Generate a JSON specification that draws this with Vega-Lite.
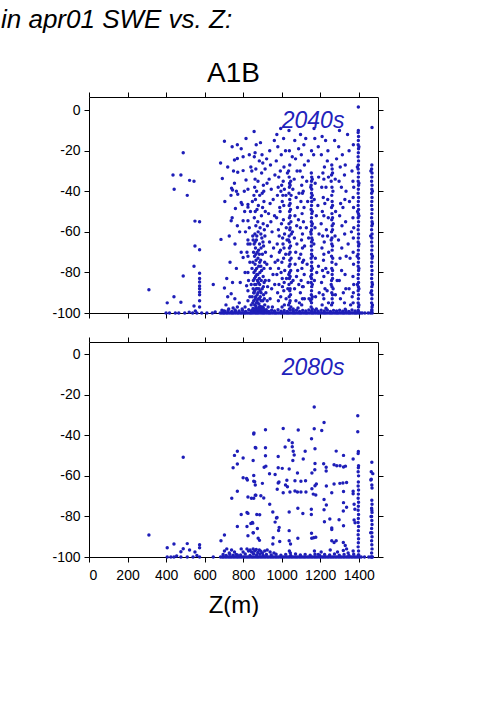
{
"$schema":"https://vega.github.io/schema/vega-lite/v6.json",
"background":"white",
"padding":{"left":0,"top":6,"right":0,"bottom":0},
"title":{"text":"in apr01 SWE vs. Z:","anchor":"start","fontSize":26,"fontStyle":"italic","fontWeight":"normal","font":"Liberation Sans","color":"black","dx":-51,"offset":27},
"spacing":16,
"config":{
"view":{"stroke":null},
"axis":{"grid":false,"domainColor":"black","domainWidth":1,"tickColor":"black","tickWidth":1,"tickSize":5,"labelFont":"Liberation Sans","labelFontSize":14,"labelColor":"black","labelPadding":4,"titleFont":"Liberation Sans","titleFontWeight":"normal","titleColor":"black"},
"title":{"font":"Liberation Sans","fontWeight":"normal","color":"black"}
},
"datasets":{
"a":[
{"z":311,"s":-88.5},{"z":406,"s":-95},{"z":441,"s":-92},{"z":477,"s":-94.7},{"z":436,"s":-32},{"z":477,"s":-32},{"z":442,"s":-39},{"z":489,"s":-21},{"z":522,"s":-34.6},{"z":545,"s":-35},{"z":510,"s":-42},{"z":550,"s":-54.7},{"z":574,"s":-55},{"z":550,"s":-67},{"z":574,"s":-68.8},{"z":545,"s":-77},{"z":489,"s":-81.8},{"z":574,"s":-80.4},{"z":574,"s":-83},{"z":574,"s":-84.7},{"z":574,"s":-86.7},{"z":574,"s":-88},{"z":574,"s":-89.7},{"z":574,"s":-91},{"z":574,"s":-94},{"z":574,"s":-97},{"z":545,"s":-96.6},{"z":552,"s":-99},{"z":645,"s":-86},
{"z":400,"s":-100},{"z":418,"s":-100},{"z":448,"s":-100},{"z":466,"s":-100},{"z":497,"s":-100},{"z":520,"s":-99.6},{"z":538,"s":-100},{"z":560,"s":-100},{"z":585,"s":-100},{"z":612,"s":-100},{"z":640,"s":-100},{"z":655,"s":-99.5},
{"z":685,"s":-63.7},{"z":703,"s":-87.7},{"z":715,"s":-83},{"z":738,"s":-90.5},{"z":757,"s":-93},{"z":770,"s":-97},{"z":711,"s":-96},{"z":683,"s":-26},{"z":692,"s":-33.7},{"z":703,"s":-15.3},{"z":743,"s":-18},{"z":770,"s":-17},{"z":790,"s":-19},{"z":800,"s":-23},{"z":755,"s":-24.6},{"z":770,"s":-23.8},{"z":750,"s":-30},{"z":772,"s":-30.6},{"z":800,"s":-29.8},{"z":755,"s":-36},{"z":815,"s":-34.4},{"z":740,"s":-38.5},{"z":745,"s":-39.4},{"z":765,"s":-40},{"z":737,"s":-42},{"z":772,"s":-41.4},{"z":825,"s":-39},{"z":760,"s":-48.5},{"z":790,"s":-45.5},{"z":795,"s":-46.5},{"z":825,"s":-46.5},{"z":825,"s":-47.8},{"z":743,"s":-53},{"z":738,"s":-54.5},{"z":770,"s":-57},{"z":800,"s":-54.5},{"z":825,"s":-54.5},{"z":825,"s":-64},{"z":825,"s":-66},{"z":820,"s":-70},{"z":790,"s":-70},{"z":800,"s":-72.6},{"z":825,"s":-72},{"z":835,"s":-75},{"z":825,"s":-80},{"z":818,"s":-86.6},{"z":825,"s":-89},{"z":835,"s":-92},{"z":825,"s":-94},{"z":780,"s":-95},{"z":795,"s":-98},{"z":810,"s":-97},{"z":725,"s":-98},{"z":748,"s":-97.5},{"z":700,"s":-99},{"z":760,"s":-99},{"z":828,"s":-84},{"z":812,"s":-60},{"z":832,"s":-58},{"z":808,"s":-50},{"z":840,"s":-28},{"z":832,"s":-22},{"z":815,"s":-14},
{"z":705,"s":-45},{"z":720,"s":-28},{"z":728,"s":-62},{"z":732,"s":-75},{"z":758,"s":-66},{"z":765,"s":-78},{"z":782,"s":-60},{"z":785,"s":-85},{"z":806,"s":-40},{"z":810,"s":-80},{"z":838,"s":-50},{"z":836,"s":-66},{"z":842,"s":-86},{"z":720,"s":-92},{"z":745,"s":-85},
{"z":857,"s":-10.5},{"z":862,"s":-21},{"z":858,"s":-23},{"z":866,"s":-29},{"z":860,"s":-38},{"z":870,"s":-40},{"z":856,"s":-42},{"z":864,"s":-44},{"z":872,"s":-49},{"z":858,"s":-53},{"z":866,"s":-57},{"z":861,"s":-61},{"z":869,"s":-64},{"z":857,"s":-66},{"z":864,"s":-68},{"z":873,"s":-70},{"z":859,"s":-72},{"z":867,"s":-74},{"z":862,"s":-76},{"z":870,"s":-78},{"z":856,"s":-80},{"z":865,"s":-82},{"z":874,"s":-84},{"z":860,"s":-86},{"z":868,"s":-88},{"z":857,"s":-90},{"z":865,"s":-92},{"z":872,"s":-94},{"z":860,"s":-96},{"z":868,"s":-97.5},{"z":877,"s":-35},{"z":879,"s":-47},{"z":876,"s":-55},{"z":878,"s":-60},{"z":880,"s":-69},{"z":877,"s":-73},{"z":881,"s":-77},{"z":876,"s":-81},{"z":879,"s":-85},{"z":882,"s":-88},{"z":877,"s":-90},{"z":880,"s":-93},{"z":875,"s":-95},{"z":883,"s":-97},
{"z":845,"s":-30},{"z":848,"s":-45},{"z":850,"s":-62},{"z":846,"s":-78},{"z":852,"s":-88},{"z":884,"s":-25},{"z":886,"s":-42},{"z":888,"s":-58},{"z":885,"s":-66},{"z":887,"s":-80},{"z":889,"s":-92},{"z":890,"s":-16},{"z":922,"s":-24},{"z":924,"s":-36},{"z":926,"s":-57},{"z":923,"s":-76},{"z":927,"s":-87},{"z":925,"s":-94},{"z":863,"s":-50},{"z":871,"s":-62},{"z":859,"s":-83},{"z":867,"s":-86},{"z":873,"s":-91},{"z":863,"s":-93},{"z":869,"s":-95},{"z":858,"s":-99},{"z":875,"s":-99},{"z":862,"s":-34},{"z":868,"s":-17},
{"z":847,"s":-92},{"z":855,"s":-94},{"z":870,"s":-99},{"z":882,"s":-95.5},{"z":893,"s":-94},{"z":900,"s":-97},{"z":910,"s":-93},
{"z":852,"s":-64},{"z":854,"s":-70},{"z":851,"s":-75},{"z":853,"s":-84},{"z":855,"s":-90},{"z":884,"s":-71},{"z":886,"s":-75},{"z":884,"s":-83},{"z":886,"s":-86},{"z":888,"s":-89},{"z":885,"s":-93},{"z":892,"s":-61},{"z":893,"s":-68},{"z":891,"s":-74},{"z":892,"s":-77},{"z":894,"s":-84},{"z":893,"s":-90},{"z":891,"s":-97},{"z":862,"s":-65},{"z":866,"s":-71},{"z":863,"s":-79},{"z":871,"s":-81},{"z":860,"s":-89},{"z":874,"s":-88},
{"z":898,"s":-22},{"z":902,"s":-26},{"z":896,"s":-31},{"z":905,"s":-37},{"z":899,"s":-41},{"z":908,"s":-45},{"z":901,"s":-48},{"z":895,"s":-52},{"z":904,"s":-56},{"z":910,"s":-59},{"z":897,"s":-63},{"z":906,"s":-67},{"z":900,"s":-71},{"z":912,"s":-75},{"z":896,"s":-79},{"z":904,"s":-82},{"z":909,"s":-85},{"z":899,"s":-88},{"z":906,"s":-91},{"z":902,"s":-94},{"z":912,"s":-96},{"z":914,"s":-29},{"z":915,"s":-50},{"z":913,"s":-62},{"z":916,"s":-70},{"z":915,"s":-84},{"z":918,"s":-90},{"z":907,"s":-40},{"z":903,"s":-65},{"z":908,"s":-78},{"z":905,"s":-87},
{"z":938,"s":-20},{"z":942,"s":-27},{"z":935,"s":-34},{"z":946,"s":-39},{"z":940,"s":-46},{"z":932,"s":-51},{"z":944,"s":-55},{"z":950,"s":-60},{"z":937,"s":-65},{"z":946,"s":-72},{"z":941,"s":-78},{"z":934,"s":-84},{"z":948,"s":-88},{"z":940,"s":-93},{"z":952,"s":-97},{"z":956,"s":-44},{"z":958,"s":-68},{"z":955,"s":-81},
{"z":962,"s":-15},{"z":965,"s":-32},{"z":963,"s":-52},{"z":966,"s":-75},{"z":964,"s":-86},
{"z":975,"s":-12},{"z":980,"s":-18},{"z":972,"s":-25},{"z":985,"s":-33},{"z":978,"s":-42},{"z":990,"s":-48},{"z":974,"s":-53},{"z":983,"s":-59},{"z":977,"s":-66},{"z":988,"s":-70},{"z":980,"s":-74},{"z":975,"s":-81},{"z":986,"s":-86},{"z":979,"s":-90},{"z":983,"s":-94},{"z":995,"s":-9},{"z":998,"s":-22},{"z":993,"s":-30},{"z":1000,"s":-37},{"z":996,"s":-40},{"z":1003,"s":-45},{"z":992,"s":-50},{"z":999,"s":-56},{"z":1005,"s":-63},{"z":994,"s":-69},{"z":1001,"s":-75},{"z":997,"s":-80},{"z":1004,"s":-87},{"z":995,"s":-92},{"z":1002,"s":-97},{"z":1010,"s":-14},{"z":1012,"s":-28},{"z":1008,"s":-35},{"z":1014,"s":-39},{"z":1011,"s":-47},{"z":1009,"s":-54},{"z":1015,"s":-61},{"z":1012,"s":-68},{"z":1010,"s":-73},{"z":1016,"s":-79},{"z":1013,"s":-85},{"z":1011,"s":-89},{"z":1014,"s":-96},{"z":982,"s":-38},{"z":987,"s":-62},{"z":984,"s":-78},{"z":1006,"s":-42},{"z":1007,"s":-66},{"z":1003,"s":-83},
{"z":1020,"s":-20},{"z":1022,"s":-42},{"z":1024,"s":-58},{"z":1021,"s":-71},{"z":1025,"s":-83},{"z":1023,"s":-93},{"z":1030,"s":-31},{"z":1028,"s":-64},{"z":1032,"s":-88},
{"z":1038,"s":-10},{"z":1040,"s":-20},{"z":1042,"s":-27},{"z":1039,"s":-33},{"z":1041,"s":-36},{"z":1040,"s":-38},{"z":1038,"s":-41},{"z":1042,"s":-44},{"z":1039,"s":-47},{"z":1041,"s":-50},{"z":1040,"s":-53},{"z":1038,"s":-56},{"z":1042,"s":-59},{"z":1039,"s":-62},{"z":1041,"s":-65},{"z":1040,"s":-68},{"z":1038,"s":-71},{"z":1042,"s":-74},{"z":1039,"s":-77},{"z":1041,"s":-80},{"z":1040,"s":-83},{"z":1038,"s":-86},{"z":1042,"s":-89},{"z":1039,"s":-92},{"z":1041,"s":-95},{"z":1040,"s":-98},{"z":1047,"s":-35},{"z":1049,"s":-42},{"z":1046,"s":-49},{"z":1048,"s":-55},{"z":1050,"s":-61},{"z":1046,"s":-67},{"z":1049,"s":-73},{"z":1047,"s":-79},{"z":1050,"s":-85},{"z":1046,"s":-91},{"z":1048,"s":-97},{"z":1036,"s":-30},{"z":1036,"s":-64},{"z":1037,"s":-81},{"z":1036,"s":-96},
{"z":1044,"s":-37},{"z":1044,"s":-46},{"z":1044,"s":-52},{"z":1044,"s":-58},{"z":1044,"s":-70},{"z":1044,"s":-76},{"z":1044,"s":-82},{"z":1044,"s":-88},{"z":1044,"s":-94},
{"z":1055,"s":-23},{"z":1058,"s":-39},{"z":1056,"s":-60},{"z":1059,"s":-84},
{"z":1068,"s":-15},{"z":1072,"s":-24},{"z":1065,"s":-34},{"z":1075,"s":-43},{"z":1069,"s":-52},{"z":1078,"s":-57},{"z":1066,"s":-63},{"z":1073,"s":-70},{"z":1070,"s":-76},{"z":1077,"s":-82},{"z":1067,"s":-88},{"z":1074,"s":-94},{"z":1080,"s":-30},{"z":1082,"s":-48},{"z":1079,"s":-66},{"z":1083,"s":-79},
{"z":1088,"s":-19},{"z":1090,"s":-41},{"z":1087,"s":-54},{"z":1091,"s":-73},{"z":1089,"s":-86},{"z":1092,"s":-95},
{"z":1098,"s":-12},{"z":1102,"s":-22},{"z":1096,"s":-30},{"z":1104,"s":-37},{"z":1100,"s":-45},{"z":1106,"s":-51},{"z":1097,"s":-58},{"z":1103,"s":-64},{"z":1099,"s":-71},{"z":1105,"s":-78},{"z":1101,"s":-84},{"z":1097,"s":-90},{"z":1104,"s":-96},{"z":1115,"s":-17},{"z":1118,"s":-27},{"z":1112,"s":-40},{"z":1116,"s":-48},{"z":1113,"s":-55},{"z":1119,"s":-67},{"z":1114,"s":-74},{"z":1117,"s":-81},{"z":1112,"s":-87},{"z":1118,"s":-93},{"z":1130,"s":-35},{"z":1128,"s":-58},{"z":1132,"s":-76},
{"z":1108,"s":-33},{"z":1108,"s":-41},{"z":1108,"s":-61},{"z":1108,"s":-68},{"z":1108,"s":-75},{"z":1108,"s":-87},{"z":1108,"s":-93},
{"z":1125,"s":-14},{"z":1138,"s":-25},{"z":1135,"s":-45},{"z":1140,"s":-63},{"z":1137,"s":-85},{"z":1142,"s":-93},
{"z":1155,"s":-20},{"z":1154,"s":-31},{"z":1156,"s":-33},{"z":1155,"s":-35},{"z":1153,"s":-37},{"z":1156,"s":-39},{"z":1155,"s":-41},{"z":1154,"s":-43},{"z":1156,"s":-45},{"z":1155,"s":-47},{"z":1153,"s":-49},{"z":1156,"s":-51},{"z":1155,"s":-53},{"z":1154,"s":-55},{"z":1156,"s":-57},{"z":1155,"s":-59},{"z":1153,"s":-61},{"z":1156,"s":-63},{"z":1155,"s":-65},{"z":1154,"s":-67},{"z":1156,"s":-69},{"z":1155,"s":-71},{"z":1153,"s":-73},{"z":1156,"s":-75},{"z":1155,"s":-77},{"z":1154,"s":-79},{"z":1156,"s":-81},{"z":1155,"s":-83},{"z":1153,"s":-85},{"z":1156,"s":-87},{"z":1155,"s":-89},{"z":1154,"s":-91},{"z":1156,"s":-93},{"z":1155,"s":-95},{"z":1153,"s":-97},{"z":1156,"s":-99},{"z":1151,"s":-38},{"z":1151,"s":-60},{"z":1151,"s":-82},{"z":1151,"s":-94},
{"z":1159,"s":-34},{"z":1159,"s":-42},{"z":1159,"s":-50},{"z":1159,"s":-56},{"z":1159,"s":-64},{"z":1159,"s":-72},{"z":1159,"s":-78},{"z":1159,"s":-86},{"z":1159,"s":-92},{"z":1159,"s":-98},
{"z":1168,"s":-9},{"z":1172,"s":-14},{"z":1166,"s":-22},{"z":1174,"s":-36},{"z":1169,"s":-44},{"z":1173,"s":-58},{"z":1167,"s":-66},{"z":1175,"s":-73},{"z":1170,"s":-84},{"z":1176,"s":-92},{"z":1180,"s":-52},{"z":1182,"s":-80},
{"z":1190,"s":-18},{"z":1192,"s":-33},{"z":1188,"s":-47},{"z":1194,"s":-61},{"z":1191,"s":-77},{"z":1195,"s":-90},
{"z":1210,"s":-13},{"z":1206,"s":-22},{"z":1214,"s":-31},{"z":1208,"s":-38},{"z":1216,"s":-43},{"z":1211,"s":-50},{"z":1205,"s":-56},{"z":1213,"s":-62},{"z":1209,"s":-68},{"z":1217,"s":-74},{"z":1212,"s":-79},{"z":1207,"s":-85},{"z":1215,"s":-91},{"z":1210,"s":-96},{"z":1222,"s":-28},{"z":1224,"s":-46},{"z":1221,"s":-65},{"z":1225,"s":-88},
{"z":1219,"s":-34},{"z":1219,"s":-52},{"z":1219,"s":-71},{"z":1219,"s":-82},{"z":1219,"s":-93},
{"z":1228,"s":-15},{"z":1230,"s":-38},{"z":1232,"s":-59},{"z":1229,"s":-78},
{"z":1240,"s":-20},{"z":1237,"s":-25},{"z":1243,"s":-33},{"z":1239,"s":-44},{"z":1242,"s":-53},{"z":1238,"s":-62},{"z":1244,"s":-70},{"z":1240,"s":-80},{"z":1236,"s":-89},{"z":1243,"s":-95},
{"z":1260,"s":-27},{"z":1262,"s":-29},{"z":1259,"s":-32},{"z":1261,"s":-38},{"z":1260,"s":-42},{"z":1262,"s":-45},{"z":1259,"s":-48},{"z":1261,"s":-51},{"z":1260,"s":-54},{"z":1262,"s":-57},{"z":1259,"s":-60},{"z":1261,"s":-63},{"z":1260,"s":-66},{"z":1262,"s":-69},{"z":1259,"s":-72},{"z":1261,"s":-75},{"z":1260,"s":-78},{"z":1262,"s":-81},{"z":1259,"s":-84},{"z":1261,"s":-87},{"z":1260,"s":-90},{"z":1262,"s":-93},{"z":1259,"s":-96},{"z":1266,"s":-40},{"z":1268,"s":-56},{"z":1265,"s":-73},{"z":1267,"s":-88},{"z":1257,"s":-35},{"z":1257,"s":-64},{"z":1257,"s":-86},
{"z":1264,"s":-31},{"z":1264,"s":-47},{"z":1264,"s":-53},{"z":1264,"s":-59},{"z":1264,"s":-67},{"z":1264,"s":-79},{"z":1264,"s":-83},{"z":1264,"s":-91},{"z":1264,"s":-95},
{"z":1275,"s":-15},{"z":1278,"s":-34},{"z":1280,"s":-50},{"z":1277,"s":-62},{"z":1282,"s":-76},{"z":1279,"s":-91},{"z":1285,"s":-24},{"z":1288,"s":-84},
{"z":1300,"s":-10},{"z":1296,"s":-18},{"z":1304,"s":-28},{"z":1298,"s":-35},{"z":1306,"s":-46},{"z":1301,"s":-52},{"z":1295,"s":-64},{"z":1303,"s":-73},{"z":1299,"s":-84},{"z":1305,"s":-93},{"z":1330,"s":-27},{"z":1326,"s":-32},{"z":1334,"s":-40},{"z":1328,"s":-44},{"z":1332,"s":-55},{"z":1327,"s":-61},{"z":1335,"s":-72},{"z":1329,"s":-81},{"z":1333,"s":-88},{"z":1326,"s":-95},{"z":1315,"s":-22},{"z":1318,"s":-48},{"z":1312,"s":-68},{"z":1320,"s":-90},{"z":1342,"s":-12},{"z":1345,"s":-66},
{"z":1310,"s":-38},{"z":1313,"s":-57},{"z":1311,"s":-79},{"z":1350,"s":-20},{"z":1352,"s":-45},{"z":1355,"s":-73},{"z":1350,"s":-88},{"z":1358,"s":-96},
{"z":1372,"s":-17},{"z":1370,"s":-35},{"z":1374,"s":-38},{"z":1371,"s":-43},{"z":1373,"s":-48},{"z":1370,"s":-53},{"z":1374,"s":-58},{"z":1372,"s":-63},{"z":1371,"s":-70},{"z":1373,"s":-76},{"z":1370,"s":-82},{"z":1374,"s":-86},{"z":1372,"s":-90},{"z":1371,"s":-95},{"z":1365,"s":-30},{"z":1362,"s":-60},{"z":1366,"s":-92},
{"z":1398,"s":1.6},{"z":1398,"s":-10},{"z":1397,"s":-11},{"z":1399,"s":-13},{"z":1398,"s":-15},{"z":1397,"s":-17},{"z":1399,"s":-19},{"z":1398,"s":-21},{"z":1397,"s":-23},{"z":1399,"s":-25},{"z":1398,"s":-27},{"z":1397,"s":-29},{"z":1399,"s":-31},{"z":1398,"s":-33},{"z":1397,"s":-35},{"z":1399,"s":-37},{"z":1398,"s":-39},{"z":1397,"s":-41},{"z":1399,"s":-43},{"z":1398,"s":-45},{"z":1397,"s":-47},{"z":1399,"s":-49},{"z":1398,"s":-51},{"z":1397,"s":-53},{"z":1399,"s":-55},{"z":1398,"s":-57},{"z":1397,"s":-59},{"z":1399,"s":-61},{"z":1398,"s":-63},{"z":1397,"s":-65},{"z":1399,"s":-67},{"z":1398,"s":-69},{"z":1397,"s":-71},{"z":1399,"s":-73},{"z":1398,"s":-75},{"z":1397,"s":-77},{"z":1399,"s":-79},{"z":1398,"s":-81},{"z":1397,"s":-83},{"z":1399,"s":-85},{"z":1398,"s":-87},{"z":1397,"s":-89},{"z":1399,"s":-91},{"z":1398,"s":-93},{"z":1397,"s":-95},{"z":1399,"s":-97},{"z":1398,"s":-99},{"z":1393,"s":-28},{"z":1394,"s":-50},{"z":1392,"s":-72},{"z":1393,"s":-86},
{"z":1401,"s":-18},{"z":1401,"s":-36},{"z":1401,"s":-52},{"z":1401,"s":-66},{"z":1401,"s":-78},{"z":1401,"s":-88},{"z":1401,"s":-96},
{"z":1469,"s":-8.5},{"z":1468,"s":-27},{"z":1467,"s":-29},{"z":1469,"s":-31},{"z":1468,"s":-33},{"z":1467,"s":-35},{"z":1469,"s":-37},{"z":1468,"s":-39},{"z":1467,"s":-41},{"z":1469,"s":-43},{"z":1468,"s":-45},{"z":1467,"s":-47},{"z":1469,"s":-49},{"z":1468,"s":-51},{"z":1467,"s":-53},{"z":1469,"s":-55},{"z":1468,"s":-57},{"z":1467,"s":-59},{"z":1469,"s":-61},{"z":1468,"s":-63},{"z":1467,"s":-65},{"z":1469,"s":-67},{"z":1468,"s":-69},{"z":1467,"s":-71},{"z":1469,"s":-73},{"z":1468,"s":-75},{"z":1467,"s":-77},{"z":1469,"s":-79},{"z":1468,"s":-81},{"z":1467,"s":-83},{"z":1469,"s":-85},{"z":1468,"s":-87},{"z":1467,"s":-89},{"z":1469,"s":-91},{"z":1468,"s":-93},{"z":1467,"s":-95},{"z":1469,"s":-97},{"z":1468,"s":-99},{"z":1463,"s":-30},{"z":1462,"s":-62},{"z":1463,"s":-90},
{"z":1471,"s":-40},{"z":1471,"s":-56},{"z":1471,"s":-72},{"z":1471,"s":-86},{"z":1471,"s":-96},
{"z":842,"s":-96},{"z":850,"s":-95},{"z":858,"s":-98},{"z":866,"s":-96.5},{"z":874,"s":-98.2},{"z":888,"s":-96.8},{"z":894,"s":-98},{"z":905,"s":-97.5},{"z":920,"s":-98.4},{"z":930,"s":-97},{"z":1060,"s":-98},{"z":1085,"s":-97.5},{"z":1180,"s":-98},{"z":1230,"s":-97.7},{"z":1330,"s":-98.2},
{"z":843,"s":-99},{"z":853,"s":-99.5},{"z":863,"s":-99.4},{"z":880,"s":-98},{"z":890,"s":-99.3},{"z":898,"s":-99.5},{"z":909,"s":-98.8},{"z":925,"s":-99.6},
{"z":681,"s":-100},{"z":689,"s":-100},{"z":697,"s":-100},{"z":703,"s":-100},{"z":712,"s":-100},{"z":719,"s":-100},{"z":728,"s":-100},{"z":737,"s":-100},{"z":744,"s":-100},{"z":751,"s":-100},{"z":760,"s":-100},{"z":769,"s":-100},{"z":776,"s":-100},{"z":785,"s":-100},{"z":792,"s":-100},{"z":801,"s":-100},{"z":808,"s":-100},{"z":815,"s":-100},{"z":824,"s":-100},{"z":833,"s":-100},{"z":840,"s":-100},{"z":847,"s":-100},{"z":856,"s":-100},{"z":865,"s":-100},{"z":872,"s":-100},{"z":879,"s":-100},{"z":888,"s":-100},{"z":897,"s":-100},{"z":904,"s":-100},{"z":911,"s":-100},{"z":920,"s":-100},{"z":929,"s":-100},{"z":936,"s":-100},{"z":943,"s":-100},{"z":952,"s":-100},{"z":961,"s":-100},{"z":968,"s":-100},{"z":975,"s":-100},{"z":984,"s":-100},{"z":993,"s":-100},{"z":1000,"s":-100},{"z":1007,"s":-100},{"z":1016,"s":-100},{"z":1025,"s":-100},{"z":1032,"s":-100},{"z":1039,"s":-100},{"z":1048,"s":-100},{"z":1057,"s":-100},{"z":1064,"s":-100},{"z":1071,"s":-100},{"z":1080,"s":-100},{"z":1089,"s":-100},{"z":1096,"s":-100},{"z":1103,"s":-100},{"z":1112,"s":-100},{"z":1121,"s":-100},{"z":1128,"s":-100},{"z":1135,"s":-100},{"z":1144,"s":-100},{"z":1153,"s":-100},{"z":1160,"s":-100},{"z":1167,"s":-100},{"z":1176,"s":-100},{"z":1185,"s":-100},{"z":1192,"s":-100},{"z":1199,"s":-100},{"z":1208,"s":-100},{"z":1217,"s":-100},{"z":1224,"s":-100},{"z":1231,"s":-100},{"z":1240,"s":-100},{"z":1249,"s":-100},{"z":1256,"s":-100},{"z":1263,"s":-100},{"z":1272,"s":-100},{"z":1281,"s":-100},{"z":1288,"s":-100},{"z":1295,"s":-100},{"z":1304,"s":-100},{"z":1313,"s":-100},{"z":1320,"s":-100},{"z":1327,"s":-100},{"z":1336,"s":-100},{"z":1345,"s":-100},{"z":1352,"s":-100},{"z":1359,"s":-100},{"z":1368,"s":-100},{"z":1377,"s":-100},{"z":1384,"s":-100},{"z":1391,"s":-100},{"z":1400,"s":-100},{"z":1409,"s":-100},{"z":1418,"s":-100},{"z":1432,"s":-100},{"z":1449,"s":-100},{"z":1461,"s":-100},{"z":1470,"s":-100},
{"z":690,"s":-98.6},{"z":705,"s":-99.1},{"z":722,"s":-98.8},{"z":741,"s":-99.2},{"z":758,"s":-98.5},{"z":779,"s":-99},{"z":797,"s":-98.7},{"z":813,"s":-99.3},{"z":829,"s":-98.4},{"z":845,"s":-98.9},{"z":851,"s":-97.8},{"z":861,"s":-98.6},{"z":868,"s":-99.2},{"z":877,"s":-98.3},{"z":885,"s":-99},{"z":893,"s":-98.5},{"z":902,"s":-99.1},{"z":917,"s":-98.7},{"z":933,"s":-99.2},{"z":948,"s":-98.6},{"z":963,"s":-99},{"z":981,"s":-98.4},{"z":997,"s":-99.1},{"z":1013,"s":-98.8},{"z":1029,"s":-99.3},{"z":1045,"s":-98.5},{"z":1061,"s":-99},{"z":1077,"s":-98.6},{"z":1093,"s":-99.2},{"z":1109,"s":-98.7},{"z":1125,"s":-99},{"z":1141,"s":-98.5},{"z":1157,"s":-99.2},{"z":1173,"s":-98.8},{"z":1189,"s":-99.1},{"z":1205,"s":-98.6},{"z":1221,"s":-99},{"z":1237,"s":-98.5},{"z":1253,"s":-99.2},{"z":1269,"s":-98.7},{"z":1285,"s":-99},{"z":1301,"s":-98.6},{"z":1317,"s":-99.1},{"z":1333,"s":-98.8},{"z":1349,"s":-99.2},{"z":1365,"s":-98.5},{"z":1381,"s":-99},{"z":1397,"s":-98.7},{"z":1468,"s":-98.4}
],
"b":[
{"z":311,"s":-89.2},{"z":406,"s":-95.4},{"z":441,"s":-93.6},{"z":477,"s":-97.4},{"z":489,"s":-95.9},{"z":510,"s":-93.4},{"z":522,"s":-96.6},{"z":550,"s":-97.5},{"z":574,"s":-93.9},{"z":574,"s":-95.4},{"z":489,"s":-50.8},{"z":406,"s":-100},{"z":441,"s":-100},{"z":477,"s":-100},{"z":510,"s":-100},{"z":540,"s":-100},{"z":574,"s":-100},{"z":645,"s":-100},{"z":455,"s":-99.5},{"z":425,"s":-100},{"z":560,"s":-99.3},
{"z":685,"s":-92},{"z":703,"s":-89.2},{"z":703,"s":-97},{"z":715,"s":-96},{"z":728,"s":-98},{"z":740,"s":-96.5},{"z":755,"s":-97.5},{"z":770,"s":-99},{"z":790,"s":-96},{"z":800,"s":-97.5},{"z":741,"s":-71},{"z":748,"s":-56},{"z":755,"s":-49.9},{"z":770,"s":-47.9},{"z":770,"s":-54.2},{"z":800,"s":-51.2},{"z":800,"s":-60.9},{"z":822,"s":-62},{"z":818,"s":-61.3},{"z":770,"s":-67.6},{"z":825,"s":-70.4},{"z":790,"s":-79},{"z":825,"s":-78.5},{"z":820,"s":-78},{"z":770,"s":-85},{"z":820,"s":-85},{"z":825,"s":-89.5},{"z":840,"s":-83.5},{"z":848,"s":-83},{"z":852,"s":-88},{"z":855,"s":-39.4},{"z":856,"s":-38.8},{"z":863,"s":-46},{"z":852,"s":-52.4},{"z":855,"s":-59.8},{"z":855,"s":-62.7},{"z":863,"s":-64.5},{"z":863,"s":-69.5},{"z":855,"s":-71},
{"z":1169,"s":-26},{"z":916,"s":-37.3},{"z":1008,"s":-36.6},{"z":1086,"s":-37.4},{"z":1169,"s":-36.8},{"z":1155,"s":-41.7},{"z":1037,"s":-42.4},{"z":1055,"s":-43.7},{"z":1055,"s":-45.6},{"z":866,"s":-46.3},{"z":916,"s":-46.1},{"z":1018,"s":-45.8},{"z":1060,"s":-47.9},{"z":1065,"s":-49.7},{"z":1122,"s":-47.9},{"z":1173,"s":-46.6},{"z":916,"s":-50.1},{"z":982,"s":-50.4},{"z":1112,"s":-51.7},{"z":1058,"s":-52.4},{"z":1173,"s":-53.9},{"z":909,"s":-55.7},{"z":918,"s":-55.2},{"z":982,"s":-56},{"z":1003,"s":-56.3},{"z":1039,"s":-56.6},{"z":1082,"s":-58.6},{"z":937,"s":-59},{"z":966,"s":-59.3},{"z":1157,"s":-58.6},{"z":1027,"s":-62.2},{"z":1069,"s":-62.4},{"z":1100,"s":-62.7},{"z":1124,"s":-62.4},{"z":982,"s":-63.5},{"z":986,"s":-63},{"z":860,"s":-62.9},{"z":900,"s":-63.7},{"z":1173,"s":-64.9},{"z":1020,"s":-64.5},{"z":1030,"s":-65.4},{"z":977,"s":-66.6},{"z":1008,"s":-68.3},{"z":1043,"s":-68},{"z":1069,"s":-67.5},{"z":1082,"s":-68},{"z":1100,"s":-68},{"z":1126,"s":-68},{"z":1157,"s":-66.3},{"z":866,"s":-69.6},{"z":892,"s":-69.8},{"z":907,"s":-70.9},{"z":843,"s":-71},{"z":1164,"s":-69},{"z":938,"s":-74},{"z":1084,"s":-76},{"z":1110,"s":-78.6},{"z":1154,"s":-76.5},{"z":1154,"s":-79},{"z":954,"s":-77.8},{"z":973,"s":-80.8},{"z":966,"s":-82.8},{"z":976,"s":-80.5},{"z":1039,"s":-77.8},{"z":871,"s":-79},{"z":886,"s":-79.2},{"z":850,"s":-83.3},{"z":987,"s":-85.4},{"z":984,"s":-86.9},{"z":1039,"s":-87},{"z":874,"s":-85.9},{"z":878,"s":-90.8},{"z":885,"s":-91.8},{"z":956,"s":-90.5},{"z":1084,"s":-90.8},{"z":1155,"s":-88.3},{"z":1166,"s":-90.5},{"z":990,"s":-92.4},{"z":1039,"s":-92},{"z":1046,"s":-93.6},{"z":954,"s":-93.6},{"z":853,"s":-88.1},
{"z":1395,"s":-30.4},{"z":1220,"s":-33.7},{"z":1208,"s":-37.6},{"z":1395,"s":-38.3},{"z":1283,"s":-47.8},{"z":1321,"s":-49.9},{"z":1371,"s":-51.7},{"z":1218,"s":-54},{"z":1231,"s":-55.7},{"z":1231,"s":-57.6},{"z":1272,"s":-54.5},{"z":1286,"s":-55},{"z":1303,"s":-55},{"z":1321,"s":-55.6},{"z":1331,"s":-55.2},{"z":1172,"s":-57},{"z":1468,"s":-53.3},{"z":1473,"s":-58.9},{"z":1465,"s":-58},{"z":1465,"s":-61.7},{"z":1468,"s":-64.5},{"z":1180,"s":-64},{"z":1232,"s":-65},{"z":1272,"s":-64},{"z":1302,"s":-63.7},{"z":1318,"s":-63.5},{"z":1337,"s":-63.3},{"z":1321,"s":-67.7},{"z":1260,"s":-68.3},{"z":1371,"s":-67.6},{"z":1371,"s":-68.8},{"z":1177,"s":-69.4},{"z":1220,"s":-71.6},{"z":1232,"s":-74.4},{"z":1220,"s":-76.7},{"z":1321,"s":-73.2},{"z":1337,"s":-75.5},{"z":1320,"s":-77.3},{"z":1376,"s":-74},{"z":1380,"s":-76.5},{"z":1376,"s":-81.8},{"z":1381,"s":-83.1},{"z":1250,"s":-81.3},{"z":1222,"s":-82.6},{"z":1298,"s":-81.6},{"z":1321,"s":-84.6},{"z":1260,"s":-85.7},{"z":1260,"s":-86.5},{"z":1156,"s":-90.8},{"z":1177,"s":-90.3},{"z":1260,"s":-92},{"z":1272,"s":-92.8},{"z":1283,"s":-92},{"z":1320,"s":-92.8},{"z":1330,"s":-94.3},{"z":1337,"s":-96},{"z":1371,"s":-97},{"z":1190,"s":-98.7},
{"z":1398,"s":-48},{"z":1397,"s":-49},{"z":1399,"s":-55},{"z":1398,"s":-56},{"z":1397,"s":-58},{"z":1399,"s":-60},{"z":1398,"s":-63},{"z":1397,"s":-65},{"z":1399,"s":-67},{"z":1398,"s":-69},{"z":1397,"s":-71},{"z":1399,"s":-73},{"z":1398,"s":-75},{"z":1397,"s":-77},{"z":1399,"s":-79},{"z":1398,"s":-81},{"z":1397,"s":-83},{"z":1399,"s":-85},{"z":1398,"s":-87},{"z":1397,"s":-89},{"z":1399,"s":-91},{"z":1398,"s":-93},{"z":1397,"s":-95},{"z":1399,"s":-97},{"z":1398,"s":-99},
{"z":1468,"s":-72},{"z":1469,"s":-74},{"z":1467,"s":-76},{"z":1468,"s":-77},{"z":1469,"s":-78},{"z":1467,"s":-80},{"z":1468,"s":-82},{"z":1469,"s":-84},{"z":1467,"s":-86},{"z":1468,"s":-88},{"z":1469,"s":-90},{"z":1467,"s":-92},{"z":1468,"s":-94},{"z":1469,"s":-96},{"z":1467,"s":-98},{"z":1468,"s":-100},{"z":1469,"s":-66},{"z":1463,"s":-62},{"z":1464,"s":-80},{"z":1462,"s":-88},
{"z":820,"s":-96},{"z":828,"s":-97},{"z":836,"s":-96.5},{"z":844,"s":-97.5},{"z":852,"s":-96},{"z":860,"s":-97},{"z":868,"s":-96.3},{"z":876,"s":-97.8},{"z":884,"s":-96.6},{"z":892,"s":-97.2},{"z":900,"s":-98},{"z":912,"s":-97},{"z":925,"s":-96.5},{"z":940,"s":-97.5},{"z":960,"s":-98},{"z":1040,"s":-97},{"z":1045,"s":-98},{"z":1170,"s":-97},{"z":1205,"s":-97.5},{"z":1252,"s":-96.5},{"z":1290,"s":-97.5},{"z":1320,"s":-96.8},{"z":1345,"s":-98},
{"z":683,"s":-100},{"z":692,"s":-100},{"z":699,"s":-100},{"z":708,"s":-100},{"z":716,"s":-100},{"z":725,"s":-100},{"z":733,"s":-100},{"z":741,"s":-100},{"z":750,"s":-100},{"z":758,"s":-100},{"z":767,"s":-100},{"z":774,"s":-100},{"z":783,"s":-100},{"z":791,"s":-100},{"z":800,"s":-100},{"z":807,"s":-100},{"z":816,"s":-100},{"z":824,"s":-100},{"z":832,"s":-100},{"z":841,"s":-100},{"z":849,"s":-100},{"z":857,"s":-100},{"z":866,"s":-100},{"z":874,"s":-100},{"z":882,"s":-100},{"z":891,"s":-100},{"z":899,"s":-100},{"z":908,"s":-100},{"z":916,"s":-100},{"z":925,"s":-100},{"z":933,"s":-100},{"z":942,"s":-100},{"z":950,"s":-100},{"z":958,"s":-100},{"z":967,"s":-100},{"z":975,"s":-100},{"z":983,"s":-100},{"z":992,"s":-100},{"z":1000,"s":-100},{"z":1009,"s":-100},{"z":1017,"s":-100},{"z":1026,"s":-100},{"z":1034,"s":-100},{"z":1042,"s":-100},{"z":1051,"s":-100},{"z":1059,"s":-100},{"z":1068,"s":-100},{"z":1076,"s":-100},{"z":1084,"s":-100},{"z":1093,"s":-100},{"z":1101,"s":-100},{"z":1110,"s":-100},{"z":1118,"s":-100},{"z":1126,"s":-100},{"z":1135,"s":-100},{"z":1143,"s":-100},{"z":1152,"s":-100},{"z":1160,"s":-100},{"z":1169,"s":-100},{"z":1177,"s":-100},{"z":1185,"s":-100},{"z":1194,"s":-100},{"z":1202,"s":-100},{"z":1211,"s":-100},{"z":1219,"s":-100},{"z":1227,"s":-100},{"z":1236,"s":-100},{"z":1244,"s":-100},{"z":1253,"s":-100},{"z":1261,"s":-100},{"z":1269,"s":-100},{"z":1278,"s":-100},{"z":1286,"s":-100},{"z":1295,"s":-100},{"z":1303,"s":-100},{"z":1311,"s":-100},{"z":1320,"s":-100},{"z":1328,"s":-100},{"z":1337,"s":-100},{"z":1345,"s":-100},{"z":1353,"s":-100},{"z":1362,"s":-100},{"z":1370,"s":-100},{"z":1379,"s":-100},{"z":1387,"s":-100},{"z":1396,"s":-100},{"z":1404,"s":-100},{"z":1413,"s":-100},{"z":1430,"s":-100},{"z":1452,"s":-100},{"z":1463,"s":-100},{"z":1471,"s":-100},
{"z":696,"s":-98.8},{"z":712,"s":-99.2},{"z":731,"s":-98.6},{"z":748,"s":-99.1},{"z":763,"s":-98.7},{"z":787,"s":-99},{"z":811,"s":-98.5},{"z":836,"s":-99.2},{"z":854,"s":-98.4},{"z":870,"s":-99},{"z":887,"s":-98.6},{"z":904,"s":-99.2},{"z":921,"s":-98.8},{"z":946,"s":-99},{"z":971,"s":-98.6},{"z":996,"s":-99.1},{"z":1021,"s":-98.7},{"z":1047,"s":-99.2},{"z":1072,"s":-98.5},{"z":1097,"s":-99},{"z":1122,"s":-98.7},{"z":1148,"s":-99.1},{"z":1173,"s":-98.6},{"z":1198,"s":-99.2},{"z":1223,"s":-98.8},{"z":1249,"s":-99},{"z":1274,"s":-98.5},{"z":1299,"s":-99.1},{"z":1324,"s":-98.7},{"z":1349,"s":-99.2},{"z":1374,"s":-98.6},{"z":1400,"s":-99}
]
},
"vconcat":[
{
"width":289,"height":216,
"title":{"text":"A1B","fontSize":28,"anchor":"middle","offset":4},
"layer":[
{"data":{"name":"a"},"mark":{"type":"circle","size":12,"color":"#1e1eb8","opacity":1},
"encoding":{
"x":{"field":"z","type":"quantitative","scale":{"domain":[0,1500],"nice":false,"zero":false},"axis":{"orient":"bottom","values":[0,200,400,600,800,1000,1200,1400],"labels":false,"title":null}},
"y":{"field":"s","type":"quantitative","scale":{"domain":[-100,6.5],"nice":false,"zero":false},"axis":{"orient":"left","values":[-100,-80,-60,-40,-20,0],"title":null,"labelExpr":"replace(datum.label, '\u2212', '-')"}}}},
{"data":{"name":"a"},"mark":{"type":"circle","size":1,"opacity":0},
"encoding":{
"x":{"field":"z","type":"quantitative","axis":{"orient":"top","values":[0,200,400,600,800,1000,1200,1400],"labels":false,"title":null}},
"y":{"field":"s","type":"quantitative","axis":{"orient":"right","values":[-100,-80,-60,-40,-20,0],"labels":false,"title":null}}}},
{"data":{"values":[{"t":"2040s"}]},"mark":{"type":"text","fontSize":23,"fontStyle":"italic","font":"Liberation Sans","color":"#2222bb","align":"center","baseline":"middle"},
"encoding":{"x":{"datum":1163,"type":"quantitative","axis":null},"y":{"datum":-5.4,"type":"quantitative","axis":null},"text":{"field":"t"}}}
],
"resolve":{"axis":{"x":"independent","y":"independent"}}
},
{
"width":289,"height":215,
"layer":[
{"data":{"name":"b"},"mark":{"type":"circle","size":12,"color":"#1e1eb8","opacity":1},
"encoding":{
"x":{"field":"z","type":"quantitative","scale":{"domain":[0,1500],"nice":false,"zero":false},"axis":{"orient":"bottom","values":[0,200,400,600,800,1000,1200,1400],"format":"d","labelPadding":6,"title":"Z(m)","titleFontSize":24,"titlePadding":11}},
"y":{"field":"s","type":"quantitative","scale":{"domain":[-100,6],"nice":false,"zero":false},"axis":{"orient":"left","values":[-100,-80,-60,-40,-20,0],"title":null,"labelExpr":"replace(datum.label, '\u2212', '-')"}}}},
{"data":{"name":"b"},"mark":{"type":"circle","size":1,"opacity":0},
"encoding":{
"x":{"field":"z","type":"quantitative","axis":{"orient":"top","values":[0,200,400,600,800,1000,1200,1400],"labels":false,"title":null}},
"y":{"field":"s","type":"quantitative","axis":{"orient":"right","values":[-100,-80,-60,-40,-20,0],"labels":false,"title":null}}}},
{"data":{"values":[{"t":"2080s"}]},"mark":{"type":"text","fontSize":23,"fontStyle":"italic","font":"Liberation Sans","color":"#2222bb","align":"center","baseline":"middle"},
"encoding":{"x":{"datum":1163,"type":"quantitative","axis":null},"y":{"datum":-6.7,"type":"quantitative","axis":null},"text":{"field":"t"}}}
],
"resolve":{"axis":{"x":"independent","y":"independent"}}
}
]
}
